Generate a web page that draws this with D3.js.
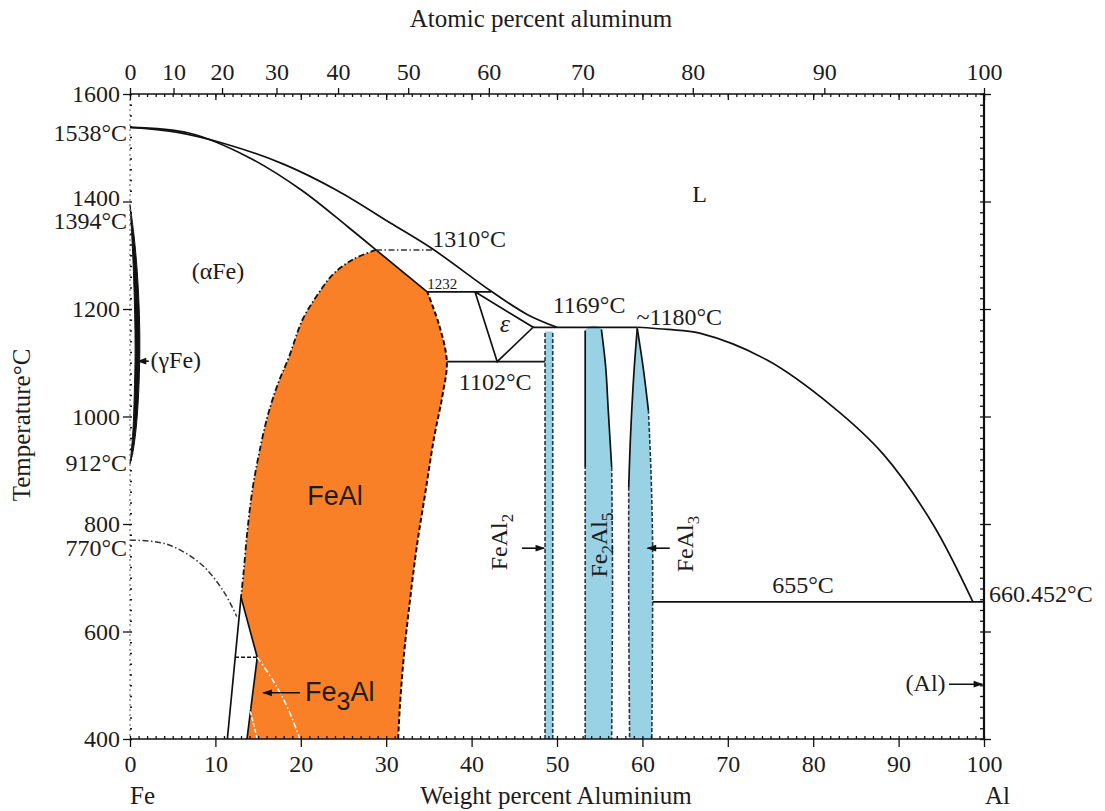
<!DOCTYPE html>
<html>
<head>
<meta charset="utf-8">
<script src="https://cdn.jsdelivr.net/npm/d3@7/dist/d3.min.js"></script>
<style>
body { margin: 0; background: #fff; }
text { font-family: "Liberation Serif", "Times New Roman", serif; fill: #1c1c1c; }
.sans { font-family: "Liberation Sans", Arial, sans-serif; }
</style>
</head>
<body>
<svg id="chart" width="1105" height="811"></svg>
<script>
// tick values
var wtTicks = [0, 10, 20, 30, 40, 50, 60, 70, 80, 90, 100];
var atTicks = [0, 10, 20, 30, 40, 50, 60, 70, 80, 90, 100];
var tempTicks = [400, 600, 800, 1000, 1200, 1400, 1600];
var keyTemps = [1538, 1394, 912, 770];

// phase boundaries, [wt% Al, T in C]
var liquidusLeft = [[0, 1538], [5.4, 1529], [11.2, 1507], [17.9, 1470], [24.2, 1421], [30.6, 1359], [35.4, 1312], [42.3, 1233], [46.5, 1190], [50, 1166]];
var liquidusRight = [[59.4, 1166], [63, 1162], [66.7, 1155], [74.6, 1105], [82.3, 1018], [88.2, 930], [94, 800], [98.7, 655]];
var solidusAlpha = [[0, 1538], [7, 1527], [13.8, 1483], [20.1, 1421], [25.5, 1353], [28.8, 1310]];
var gammaOuter = [[0, 1394], [0.45, 1340], [0.85, 1270], [1.1, 1190], [1.15, 1120], [1.0, 1040], [0.7, 975], [0.3, 930], [0, 912]];
var gammaInner = [[0, 1394], [0.2, 1340], [0.4, 1270], [0.55, 1190], [0.6, 1120], [0.5, 1040], [0.35, 975], [0.12, 930], [0, 912]];

var feAlLeft = [[28.8, 1310], [26.2, 1293], [23.8, 1265], [21.9, 1225], [20.2, 1180], [18.6, 1110], [17.3, 1060], [16.1, 1000], [15.1, 930], [14.3, 860], [13.7, 780], [13.3, 710], [13.0, 664]];
var fe3AlEdge = [[13.0, 664], [14.9, 552], [13.7, 400]];
var feAlRight = [[31.4, 400], [31.6, 460], [32.1, 560], [32.8, 660], [33.6, 760], [34.6, 860], [35.6, 960], [36.6, 1040], [37.1, 1102], [36.2, 1170], [34.8, 1232]];
var feAlCap = [[28.8, 1310], [34.8, 1232]];
var alphaFe3Al = [[11.4, 400], [13.0, 664]];
var curie = [[0, 770], [4.2, 763], [8.2, 727], [10.9, 676], [12.5, 628]];
var fe3AlOrder = [[14.9, 552], [16.7, 510], [18.4, 460], [19.9, 400]];
var fe3AlArc = [[13.9, 462], [14.4, 432], [14.9, 400]];

var epsilon = [[40.4, 1232], [43.0, 1102], [47.2, 1166], [40.4, 1232]];
var iso1310 = [[28.8, 1310], [35.4, 1310]];
var iso1232 = [[34.8, 1232], [42.3, 1232]];
var iso1102 = [[37.1, 1102], [48.6, 1102]];
var iso1169 = [[47.2, 1166], [59.4, 1166]];
var iso552 = [[12.3, 552], [14.9, 552]];
var iso655 = [[61.2, 655], [100, 655]];

var feAl2Left = [[48.6, 400], [48.6, 1158]];
var feAl2Right = [[49.5, 400], [49.5, 1158]];
var fe2Al5Left = [[53.3, 400], [53.3, 906], [53.3, 1160]];
var fe2Al5Top = [[53.3, 1160], [53.7, 1167], [54.3, 1169], [54.9, 1167], [55.2, 1162]];
var fe2Al5Right = [[55.2, 1162], [55.7, 1092], [56.0, 1012], [56.4, 906], [56.5, 700], [56.4, 400]];
var feAl3Left = [[59.4, 1164], [59.0, 1080], [58.6, 960], [58.4, 869], [58.4, 650], [58.5, 400]];
var feAl3Right = [[59.4, 1164], [60.1, 1090], [60.7, 1012], [61.0, 900], [61.2, 760], [61.2, 655], [61.1, 400]];

var ORANGE = '#f98027';
var BLUE = '#98d2e4';
var FS = 24;

var svg = d3.select('#chart');

var x = d3.scaleLinear().domain([0, 100]).range([130, 984]);
var y = d3.scaleLinear().domain([400, 1600]).range([739, 94]);

// atomic % Al -> weight % Al
function atToWt(a) {
    return a * 26.98 / (a * 26.98 + (100 - a) * 55.845) * 100;
}

function pathOf(pts, curve) {
    return d3.line()
        .x(function (d) { return x(d[0]); })
        .y(function (d) { return y(d[1]); })
        .curve(curve || d3.curveCatmullRom)(pts);
}

// glue several open paths into one closed outline
function outline(parts) {
    return parts.map(function (p, i) {
        var s = pathOf(p[0], p[1]);
        return i ? s.replace(/^M/, 'L') : s;
    }).join('') + 'Z';
}

function rev(a) { return a.slice().reverse(); }

function stroke(pts, opt) {
    opt = opt || {};
    return svg.append('path')
        .attr('d', pathOf(pts, opt.curve))
        .attr('fill', 'none')
        .attr('stroke', opt.color || '#111')
        .attr('stroke-width', opt.width || 1.7)
        .attr('stroke-dasharray', opt.dash || null);
}

// ---------- fills ----------
svg.append('path')
    .attr('d', outline([
        [feAlLeft],
        [fe3AlEdge, d3.curveLinear],
        [[[13.7, 400], [31.4, 400]], d3.curveLinear],
        [feAlRight],
        [rev(feAlCap), d3.curveLinear]
    ]))
    .attr('fill', ORANGE);

svg.append('path')
    .attr('d', outline([[feAl2Left, d3.curveLinear], [rev(feAl2Right), d3.curveLinear]]))
    .attr('fill', BLUE);
svg.append('path')
    .attr('d', outline([[fe2Al5Left, d3.curveLinear], [fe2Al5Top], [fe2Al5Right]]))
    .attr('fill', BLUE);
svg.append('path')
    .attr('d', outline([[rev(feAl3Left)], [feAl3Right]]))
    .attr('fill', BLUE);

svg.append('path')
    .attr('d', outline([[gammaOuter], [rev(gammaInner)]]))
    .attr('fill', '#111')
    .attr('stroke', '#111')
    .attr('stroke-width', 1);

// ---------- phase lines ----------
var DASHDOT = '6,2.5,1.5,2.5';
stroke(liquidusLeft);
stroke(liquidusRight);
stroke(solidusAlpha);
stroke(feAlCap, { curve: d3.curveLinear });
stroke(iso1310, { curve: d3.curveLinear, dash: DASHDOT, width: 1.5, color: '#333' });
stroke(iso1232, { curve: d3.curveLinear });
stroke(iso1102, { curve: d3.curveLinear });
stroke(iso1169, { curve: d3.curveLinear });
stroke(iso655, { curve: d3.curveLinear });
stroke(epsilon, { curve: d3.curveLinear });

stroke(feAlLeft, { dash: DASHDOT, width: 1.8 });
stroke(feAlRight, { dash: '5,2.5', width: 2 });
stroke(alphaFe3Al, { curve: d3.curveLinear });
stroke(fe3AlEdge, { curve: d3.curveLinear });
stroke(iso552, { curve: d3.curveLinear, dash: '4,2', width: 1.4 });
stroke(curie, { dash: DASHDOT, width: 1.5, color: '#333' });
stroke(fe3AlOrder, { dash: DASHDOT, width: 1.5, color: '#fff' });
stroke(fe3AlArc, { dash: '4,2', width: 1.4, color: '#fff' });

// intermetallic edges: solid where drawn, dashed where uncertain
function splitEdge(pts, tSplit, curve) {
    var hi = pts.filter(function (d) { return d[1] >= tSplit; });
    var lo = pts.filter(function (d) { return d[1] <= tSplit; });
    if (hi.length > 1) stroke(hi, { curve: curve });
    if (lo.length > 1) stroke(lo, { curve: curve, dash: '4,2', width: 1.6, color: '#2b3440' });
}
splitEdge(feAl2Left, 2000, d3.curveLinear);
splitEdge(feAl2Right, 2000, d3.curveLinear);
splitEdge(fe2Al5Left, 906, d3.curveLinear);
splitEdge(fe2Al5Right, 906);
splitEdge(feAl3Left, 869);
splitEdge(feAl3Right, 1012);

// ---------- axes ----------
// left: dotted edge
svg.append('line')
    .attr('x1', x(0)).attr('x2', x(0))
    .attr('y1', y(1600)).attr('y2', y(400))
    .attr('stroke', '#777').attr('stroke-width', 1.2)
    .attr('stroke-dasharray', '2,3');

function styleAxis(g) {
    g.select('.domain').remove();
    g.selectAll('line').attr('stroke', '#111').attr('stroke-width', 1.3);
    g.selectAll('text').attr('font-size', FS).attr('fill', '#1c1c1c')
        .style('font-family', '"Liberation Serif", serif');
}

svg.append('g')
    .attr('transform', 'translate(' + x(0) + ',0)')
    .call(d3.axisLeft(y).tickValues(tempTicks).tickSize(7).tickPadding(3).tickFormat(d3.format('d')))
    .call(styleAxis)
    .selectAll('text')
    .attr('y', function (d) { return d === 1400 ? -4 : 0; });

svg.append('g')
    .attr('transform', 'translate(' + x(0) + ',0)')
    .call(d3.axisRight(y).tickValues(d3.range(400, 1601, 20)).tickSize(2).tickFormat(''))
    .call(styleAxis);

// key temperatures beside the left axis
var keyShift = { 1538: 6, 1394: 17, 912: 0, 770: 8 };
svg.append('g').selectAll('text')
    .data(keyTemps)
    .enter()
    .append('text')
    .attr('x', x(0) - 3)
    .attr('y', function (d) { return y(d) + keyShift[d]; })
    .attr('dy', '0.32em')
    .attr('text-anchor', 'end')
    .attr('font-size', FS)
    .text(function (d) { return d + '\u00b0C'; });

// bottom: weight percent
svg.append('line')
    .attr('x1', x(0)).attr('x2', x(100))
    .attr('y1', y(400)).attr('y2', y(400))
    .attr('stroke', '#111').attr('stroke-width', 1.6);
svg.append('g')
    .attr('transform', 'translate(0,' + y(400) + ')')
    .call(d3.axisBottom(x).tickValues(wtTicks).tickSize(8).tickPadding(8))
    .call(styleAxis);
svg.append('g')
    .attr('transform', 'translate(0,' + y(400) + ')')
    .call(d3.axisTop(x).tickValues(d3.range(0, 101, 1)).tickSize(3).tickFormat(''))
    .call(styleAxis);

// top: atomic percent
svg.append('line')
    .attr('x1', x(0)).attr('x2', x(100))
    .attr('y1', y(1600)).attr('y2', y(1600))
    .attr('stroke', '#111').attr('stroke-width', 1.6);
svg.append('g')
    .attr('transform', 'translate(0,' + y(1600) + ')')
    .call(d3.axisTop(x).tickValues(atTicks.map(atToWt)).tickSize(6).tickPadding(8)
        .tickFormat(function (d, i) { return atTicks[i]; }))
    .call(styleAxis);
svg.append('g')
    .attr('transform', 'translate(0,' + y(1600) + ')')
    .call(d3.axisBottom(x).tickValues(d3.range(0, 101, 1)).tickSize(3).tickFormat(''))
    .call(styleAxis);
svg.append('g')
    .attr('transform', 'translate(0,' + y(1600) + ')')
    .call(d3.axisBottom(x).tickValues(wtTicks).tickSize(6).tickFormat(''))
    .call(styleAxis);

// right: pure Al
svg.append('line')
    .attr('x1', x(100)).attr('x2', x(100))
    .attr('y1', y(1600) - 1).attr('y2', y(400) + 1)
    .attr('stroke', '#111').attr('stroke-width', 2.2);
svg.append('g')
    .attr('transform', 'translate(' + x(100) + ',0)')
    .call(d3.axisRight(y).tickValues(tempTicks).tickSize(7).tickFormat(''))
    .call(styleAxis);
svg.append('g')
    .attr('transform', 'translate(' + x(100) + ',0)')
    .call(d3.axisLeft(y).tickValues(d3.range(400, 1601, 20)).tickSize(4).tickFormat(''))
    .call(styleAxis);

// ---------- axis titles ----------
svg.append('text')
    .attr('x', 541).attr('y', 27)
    .attr('text-anchor', 'middle').attr('font-size', 25)
    .text('Atomic percent aluminum');
svg.append('text')
    .attr('x', 556).attr('y', 804)
    .attr('text-anchor', 'middle').attr('font-size', 25)
    .text('Weight percent Aluminium');
svg.append('text')
    .attr('x', x(0)).attr('y', 804)
    .attr('font-size', 25)
    .text('Fe');
svg.append('text')
    .attr('x', x(100) + 1).attr('y', 804)
    .attr('font-size', 25)
    .text('Al');
svg.append('text')
    .attr('transform', 'translate(30,425) rotate(-90)')
    .attr('text-anchor', 'middle').attr('font-size', 25)
    .text('Temperature\u00b0C');

// ---------- labels ----------
function label(txt, w, t, opt) {
    opt = opt || {};
    return svg.append('text')
        .attr('x', x(w)).attr('y', y(t))
        .attr('text-anchor', opt.anchor || 'start')
        .attr('font-size', opt.size || FS)
        .attr('font-style', opt.italic ? 'italic' : null)
        .text(txt);
}

label('L', 66.7, 1400, { anchor: 'middle' });
label('(\u03b1Fe)', 10.3, 1255, { anchor: 'middle' });
label('(\u03b3Fe)', 2.4, 1090);
label('1310\u00b0C', 35.4, 1316);
label('1232', 34.8, 1237, { size: 15 });
label('\u03b5', 43.9, 1158, { anchor: 'middle', italic: true, size: 26 });
label('1102\u00b0C', 38.5, 1050);
label('1169\u00b0C', 49.5, 1193);
label('~1180\u00b0C', 59.3, 1171);
label('655\u00b0C', 75.2, 672);
label('660.452\u00b0C', 100.6, 654);
label('(Al)', 95.5, 490, { anchor: 'end' });

svg.append('text')
    .attr('class', 'sans')
    .attr('x', x(24.0)).attr('y', y(835))
    .attr('text-anchor', 'middle')
    .attr('font-size', 27)
    .text('FeAl');

var fe3 = svg.append('text')
    .attr('class', 'sans')
    .attr('x', x(20.5)).attr('y', y(470))
    .attr('font-size', 27);
fe3.append('tspan').text('Fe');
fe3.append('tspan').attr('dy', 9).attr('font-size', 25).text('3');
fe3.append('tspan').attr('dy', -9).text('Al');

// vertical compound labels
function vLabel(parts, px, py) {
    var t = svg.append('text')
        .attr('transform', 'translate(' + px + ',' + py + ') rotate(-90)')
        .attr('text-anchor', 'middle')
        .attr('font-size', FS);
    parts.forEach(function (p) {
        t.append('tspan')
            .attr('dy', p.sub ? 6 : (p.after ? -6 : 0))
            .attr('font-size', p.sub ? 17 : FS)
            .text(p.s);
    });
}
vLabel([{ s: 'FeAl' }, { s: '2', sub: true }], 507, 542);
vLabel([{ s: 'Fe' }, { s: '2', sub: true }, { s: 'Al', after: true }, { s: '5', sub: true }], 607, 545);
vLabel([{ s: 'FeAl' }, { s: '3', sub: true }], 693, 544);

// ---------- arrows ----------
svg.append('defs').append('marker')
    .attr('id', 'head')
    .attr('viewBox', '0 0 10 10')
    .attr('refX', 9).attr('refY', 5)
    .attr('markerWidth', 7).attr('markerHeight', 6)
    .attr('orient', 'auto')
    .append('path')
    .attr('d', 'M0,1.5L10,5L0,8.5Z')
    .attr('fill', '#111');

function arrow(a, b) {
    svg.append('line')
        .attr('x1', x(a[0])).attr('y1', y(a[1]))
        .attr('x2', x(b[0])).attr('y2', y(b[1]))
        .attr('stroke', '#111').attr('stroke-width', 1.6)
        .attr('marker-end', 'url(#head)');
}
arrow([2.2, 1103], [0.9, 1103]);
arrow([45.9, 755], [48.5, 755]);
arrow([63.2, 755], [60.6, 755]);
arrow([19.9, 486], [15.6, 486]);
arrow([95.9, 502], [99.8, 502]);
</script>
</body>
</html>
